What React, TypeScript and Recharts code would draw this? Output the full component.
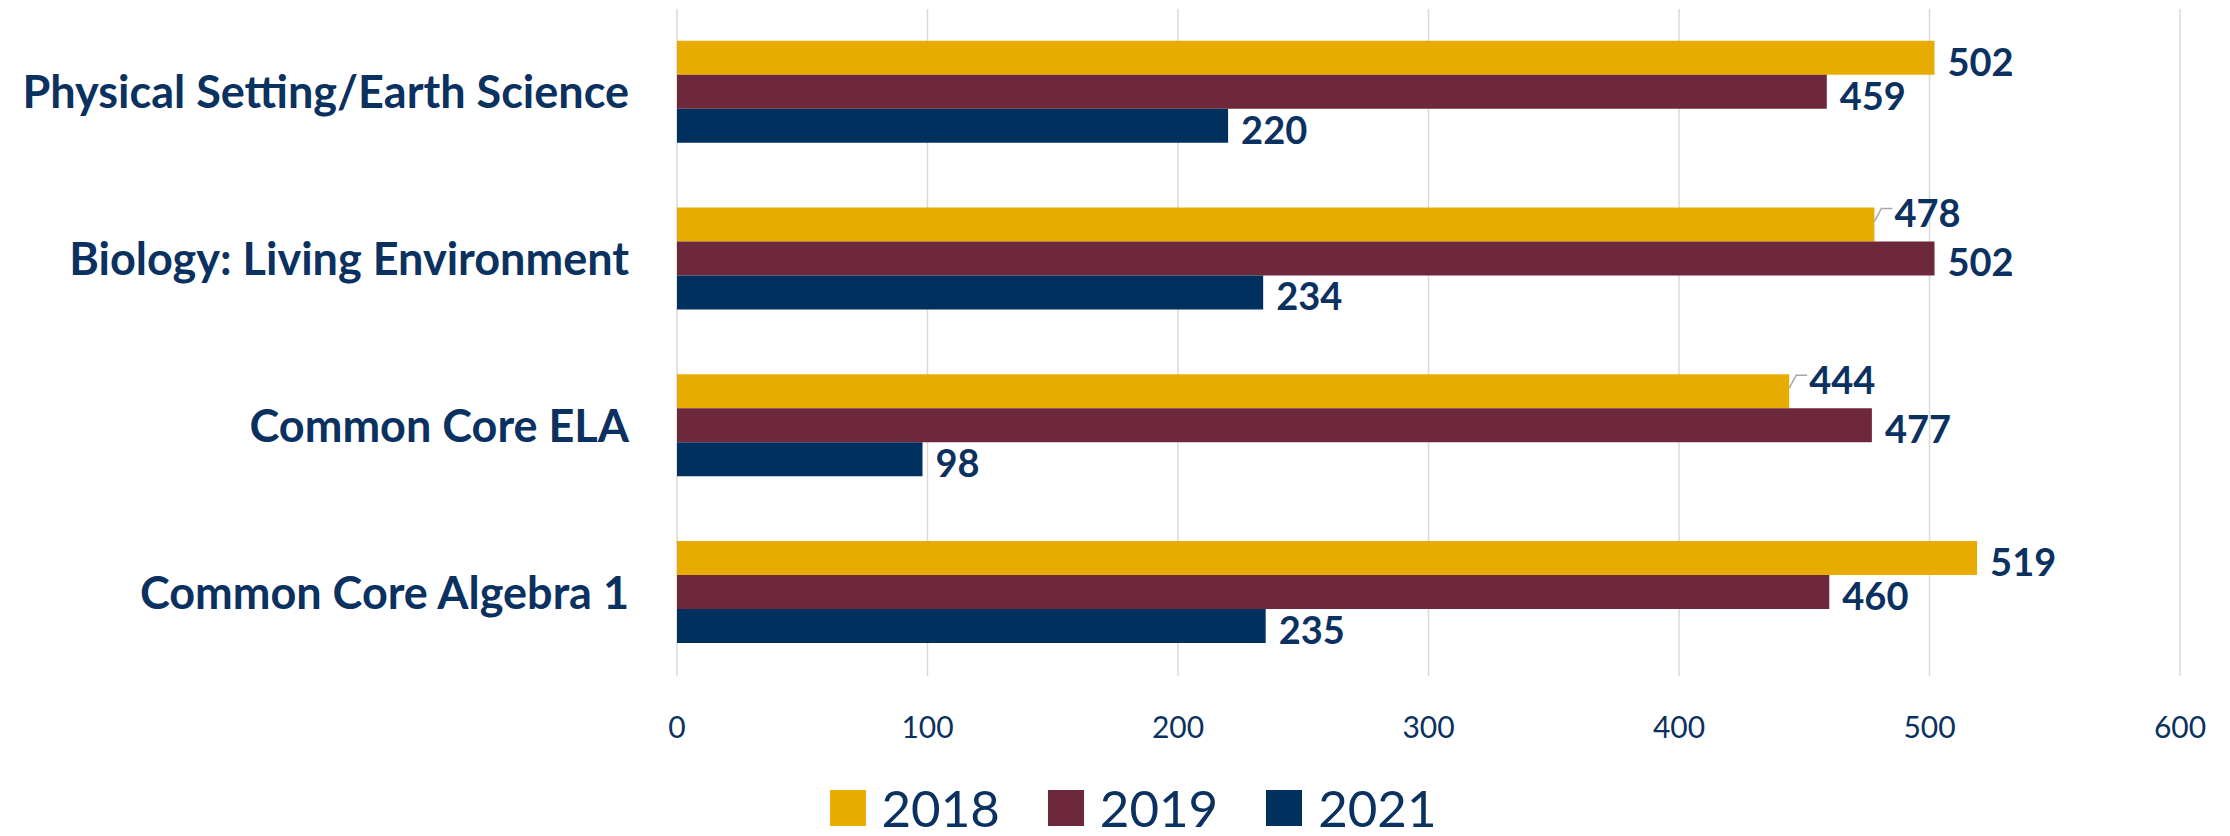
import { BarChart, Bar, XAxis, YAxis, CartesianGrid, Legend, LabelList } from 'recharts';

const categories = [
  'Physical Setting/Earth Science',
  'Biology: Living Environment',
  'Common Core ELA',
  'Common Core Algebra 1',
];
const values2018 = [502, 478, 444, 519];
const values2019 = [459, 502, 477, 460];
const values2021 = [220, 234, 98, 235];
const xTicks = [0, 100, 200, 300, 400, 500, 600];
const seriesNames = ['2018', '2019', '2021'];

// labels Excel nudged upward with a leader line (2018 series)
const liftedLabels2018 = [false, true, true, false];

const NAVY_TEXT = '#0B3160';
const COLORS = ['#E8AC00', '#6E283C', '#00305E'];
const FONT = 'Lato, "Open Sans", sans-serif';

const data = categories.map((name, i) => ({
  name,
  y2018: values2018[i],
  y2019: values2019[i],
  y2021: values2021[i],
}));

const makeLabel = (lifted?: boolean[]) => (props: any) => {
  const { x, y, width, height, value, index } = props;
  const xEnd = x + width;
  const lift = lifted && lifted[index];
  if (lift) {
    return (
      <g>
        <polyline
          points={`${xEnd},${y + 14} ${xEnd + 7},${y + 1} ${xEnd + 18},${y + 1}`}
          fill="none"
          stroke="#A6A6A6"
          strokeWidth={1.5}
        />
        <text
          x={xEnd + 20}
          y={y + height / 2 - 12}
          fill={NAVY_TEXT}
          fontSize={38}
          fontWeight={700}
          fontFamily={FONT}
          dominantBaseline="central"
        >
          {value}
        </text>
      </g>
    );
  }
  return (
    <text
      x={xEnd + 13}
      y={y + height / 2 + 3}
      fill={NAVY_TEXT}
      fontSize={38}
      fontWeight={700}
      fontFamily={FONT}
      dominantBaseline="central"
    >
      {value}
    </text>
  );
};

const renderLegend = () => (
  <div
    style={{
      height: 60,
      display: 'flex',
      justifyContent: 'center',
      alignItems: 'center',
      paddingLeft: 84,
      paddingTop: 4,
      boxSizing: 'border-box',
      fontFamily: FONT,
    }}
  >
    {seriesNames.map((s, i) => (
      <div key={s} style={{ display: 'flex', alignItems: 'center', marginRight: 48 }}>
        <div style={{ width: 36, height: 36, background: COLORS[i], marginRight: 16 }} />
        <span style={{ fontSize: 51, color: NAVY_TEXT, lineHeight: '56px' }}>{s}</span>
      </div>
    ))}
  </div>
);

export default function App() {
  return (
    <div style={{ position: 'absolute', left: 0, top: 0, width: 2230, height: 836, background: '#fff' }}>
      <BarChart
        layout="vertical"
        width={2230}
        height={836}
        data={data}
        margin={{ top: 9, right: 50, left: 0, bottom: 0 }}
        barCategoryGap="19%"
        barGap={0}
      >
        <CartesianGrid horizontal={false} stroke="#D9D9D9" strokeWidth={1.5} />
        <XAxis
          type="number"
          domain={[0, 600]}
          ticks={xTicks}
          tickLine={false}
          axisLine={false}
          tickMargin={35}
          height={100}
          tick={{ fill: NAVY_TEXT, fontSize: 30, fontFamily: FONT }}
        />
        <YAxis
          type="category"
          dataKey="name"
          width={677}
          tickLine={false}
          axisLine={false}
          tickMargin={42}
          interval={0}
          tick={{ fill: NAVY_TEXT, fontSize: 45, fontWeight: 700, fontFamily: FONT }}
        />
        <Legend verticalAlign="bottom" content={renderLegend} wrapperStyle={{ left: 0, width: 2230 }} />
        <Bar dataKey="y2018" name="2018" fill={COLORS[0]} isAnimationActive={false}>
          <LabelList dataKey="y2018" content={makeLabel(liftedLabels2018)} />
        </Bar>
        <Bar dataKey="y2019" name="2019" fill={COLORS[1]} isAnimationActive={false}>
          <LabelList dataKey="y2019" content={makeLabel()} />
        </Bar>
        <Bar dataKey="y2021" name="2021" fill={COLORS[2]} isAnimationActive={false}>
          <LabelList dataKey="y2021" content={makeLabel()} />
        </Bar>
      </BarChart>
    </div>
  );
}
